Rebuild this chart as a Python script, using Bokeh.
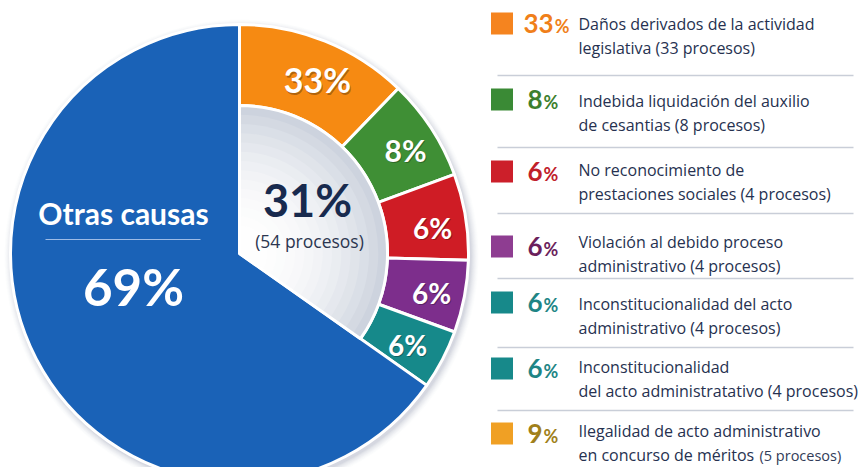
import numpy as np
from bokeh.plotting import figure
from bokeh.models import Range1d
from bokeh.embed import file_html
from bokeh.resources import INLINE
from bokeh.core.properties import value

W, H = 859, 467

# ---------------- data ----------------
# pie slices, clockwise from 12 o'clock (shares as drawn in the picture)
slice_names = ["Daños derivados de la actividad legislativa",
               "Indebida liquidación del auxilio de cesantias",
               "No reconocimiento de prestaciones sociales",
               "Violación al debido proceso administrativo",
               "Inconstitucionalidad del acto administrativo",
               "Otras causas"]
slice_share = [12.2, 7.2, 6.1, 5.1, 4.2, 65.3]
slice_labels = ["33%", "8%", "6%", "6%", "6%", "69%"]
slice_colors = ["#f68a12", "#3f8f35", "#cf1c25", "#7d2e8c", "#16898a", "#1a62b7"]

center_pct = "31%"
center_sub = "(54 procesos)"
others_name = "Otras causas"
others_pct = "69%"

legend_pct = ["33", "8", "6", "6", "6", "6", "9"]
legend_line1 = ["Daños derivados de la actividad",
                "Indebida liquidación del auxilio",
                "No reconocimiento de",
                "Violación al debido proceso",
                "Inconstitucionalidad del acto",
                "Inconstitucionalidad",
                "Ilegalidad de acto administrativo"]
legend_line2 = ["legislativa (33 procesos)",
                "de cesantias (8 procesos)",
                "prestaciones sociales (4 procesos)",
                "administrativo (4 procesos)",
                "administrativo (4 procesos)",
                "del acto administratativo (4 procesos)",
                "en concurso de méritos"]
legend_note_last = "(5 procesos)"
legend_sq_colors = ["#f5841f", "#3a8a35", "#cc1f2a", "#8e3d91", "#17898a", "#17898a", "#f0a024"]
legend_pct_colors = ["#f07f1a", "#3d7f2e", "#c0202a", "#6b1f5c", "#1e8585", "#1e8585", "#a0801a"]

# ---------------- layout ----------------
def Y(s):
    return H - s

FONT = "Lato"
TFONT = "Open Sans"
p = figure(width=W, height=H, x_range=Range1d(0, W), y_range=Range1d(0, H),
           output_backend="svg", toolbar_location=None, min_border=0)
p.axis.visible = False
p.grid.visible = False
p.outline_line_color = None
p.background_fill_color = "white"
p.border_fill_color = "white"

cx, cy = 239, Y(253)
R = 229
r_in = 148

# shadow
for k, a in zip(range(8, 0, -1), [0.015, 0.02, 0.025, 0.03, 0.035, 0.04, 0.05, 0.06]):
    p.circle(x=[cx + 2], y=[cy - 3], radius=R + k, fill_color="#5a6a85", fill_alpha=a, line_color=None)

share = np.array(slice_share, dtype=float)
frac = share / share.sum()
cum = np.concatenate([[0], np.cumsum(frac)])
starts = np.deg2rad(90 - cum[:-1] * 360)
ends = np.deg2rad(90 - cum[1:] * 360)

# colored ring slices
n_ring = len(slice_share) - 1
p.annular_wedge(x=cx, y=cy, inner_radius=r_in, outer_radius=R,
                start_angle=starts[:n_ring], end_angle=ends[:n_ring], direction="clock",
                fill_color=slice_colors[:n_ring], line_color="white", line_width=3)
# big slice
p.wedge(x=cx, y=cy, radius=R, start_angle=starts[-1], end_angle=ends[-1], direction="clock",
        fill_color=slice_colors[-1], line_color="white", line_width=3)

# inner gradient sector
a0, a1 = starts[0], ends[n_ring - 1]
steps = 16
c_edge = np.array([0xcd, 0xd3, 0xde])
c_mid = np.array([0xff, 0xff, 0xff])
for i in range(steps):
    t = 1 - i / steps
    rr = r_in * t
    w = t ** 2.4
    c = (c_mid * (1 - w) + c_edge * w).astype(int)
    col = "#%02x%02x%02x" % tuple(c)
    p.wedge(x=cx, y=cy, radius=rr, start_angle=a0, end_angle=a1, direction="clock",
            fill_color=col, line_color=None)
p.wedge(x=cx, y=cy, radius=r_in, start_angle=a0, end_angle=a1, direction="clock",
        fill_color=None, line_color="white", line_width=3)

# slice labels
label_pos = [(317, 79, 34), (405, 149, 30), (432, 227, 28), (431, 292, 28), (407, 344, 28)]
for (lx, ly, fs), lab in zip(label_pos, slice_labels[:n_ring]):
    p.text(x=[lx + 1], y=[Y(ly) - 1.5], text=[lab], text_font=value(FONT), text_font_style="bold",
           text_font_size=f"{fs}px", text_color="#000000", text_alpha=0.28,
           text_align="center", text_baseline="middle")
    p.text(x=[lx], y=[Y(ly)], text=[lab], text_font=value(FONT), text_font_style="bold",
           text_font_size=f"{fs}px", text_color="white",
           text_align="center", text_baseline="middle")

# center text
p.text(x=[307], y=[Y(199)], text=[center_pct], text_font=value(FONT), text_font_style="bold",
       text_font_size="45px", text_color="#182a4e", text_align="center", text_baseline="middle")
p.text(x=[309], y=[Y(240)], text=[center_sub], text_font=value(TFONT),
       text_font_size="17.5px", text_color="#2c3650", text_align="center", text_baseline="middle")

# others text
p.text(x=[123], y=[Y(212)], text=[others_name], text_font=value(FONT), text_font_style="bold",
       text_font_size="30px", text_color="white", text_align="center", text_baseline="middle")
p.segment(x0=[45], y0=[Y(239)], x1=[200], y1=[Y(239)], line_color="#9dbbe6", line_width=1.2)
p.text(x=[133], y=[Y(286)], text=[others_pct], text_font=value(FONT), text_font_style="bold",
       text_font_size="51px", text_color="white", text_align="center", text_baseline="middle")

# legend
row_y = [23, 100, 169, 241, 303, 366, 430]
sq_y = [23, 99, 171, 246, 302, 368, 433]
for i in range(len(legend_pct)):
    yy = sq_y[i]
    p.rect(x=[501.5], y=[Y(yy)], width=22, height=22, fill_color=legend_sq_colors[i], line_color=None)
    digits = legend_pct[i]
    px0 = 523 if len(digits) > 1 else 527
    p.text(x=[px0], y=[Y(yy)], text=[digits], text_font=value(FONT), text_font_style="bold",
           text_font_size="26px", text_color=legend_pct_colors[i], text_align="left",
           text_baseline="middle")
    dw = 15.1 * len(digits)
    p.text(x=[px0 + dw + 1], y=[Y(yy) - 2], text=["%"], text_font=value(FONT), text_font_style="bold",
           text_font_size="18px", text_color=legend_pct_colors[i], text_align="left",
           text_baseline="middle")
    p.text(x=[578], y=[Y(row_y[i])], text=[legend_line1[i]], text_font=value(TFONT),
           text_font_size="16px", text_color="#263150", text_align="left", text_baseline="middle")
    p.text(x=[578], y=[Y(row_y[i] + 24)], text=[legend_line2[i]], text_font=value(TFONT),
           text_font_size="16px", text_color="#263150", text_align="left", text_baseline="middle")
p.text(x=[759], y=[Y(row_y[-1] + 25)], text=[legend_note_last], text_font=value(TFONT),
       text_font_size="14.5px", text_color="#323c58", text_align="left", text_baseline="middle")

sep_y = [75, 147, 213, 278, 347, 410]
p.segment(x0=[497] * len(sep_y), y0=[Y(s) for s in sep_y], x1=[853] * len(sep_y),
          y1=[Y(s) for s in sep_y], line_color="#c9ced8", line_width=1.3)

open("out.html", "w").write(file_html(p, INLINE))
